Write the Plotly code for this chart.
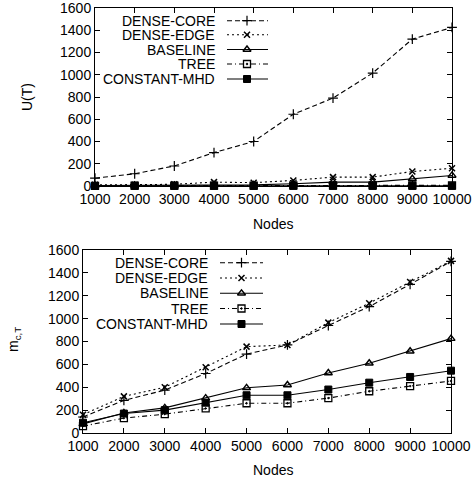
import plotly.graph_objects as go

W, H = 474, 481

nodes = [1000, 2000, 3000, 4000, 5000, 6000, 7000, 8000, 9000, 10000]
series_names = ["DENSE-CORE", "DENSE-EDGE", "BASELINE", "TREE", "CONSTANT-MHD"]

# Top chart: U(T)
u_dense_core = [70, 110, 180, 300, 400, 645, 790, 1015, 1320, 1425]
u_dense_edge = [10, 10, 15, 35, 30, 50, 80, 80, 130, 160]
u_baseline = [5, 5, 5, 10, 10, 20, 35, 35, 65, 95]
u_tree = [2, 3, 3, 4, 4, 5, 5, 5, 6, 6]
u_constant_mhd = [1, 1, 1, 1, 1, 1, 1, 1, 1, 1]

# Bottom chart: m_{c,T}
m_dense_core = [140, 285, 375, 520, 690, 770, 940, 1105, 1300, 1500]
m_dense_edge = [160, 320, 400, 575, 755, 770, 965, 1135, 1320, 1505]
m_baseline = [80, 175, 220, 305, 395, 420, 525, 610, 715, 825]
m_tree = [60, 130, 165, 215, 260, 260, 305, 365, 410, 455]
m_constant_mhd = [90, 170, 200, 265, 330, 330, 380, 440, 490, 545]

x_ticks = nodes
x_tick_labels = [str(v) for v in nodes]
y_ticks = [0, 200, 400, 600, 800, 1000, 1200, 1400, 1600]
y_tick_labels = [str(v) for v in y_ticks]

top_values = [u_dense_core, u_dense_edge, u_baseline, u_tree, u_constant_mhd]
bottom_values = [m_dense_core, m_dense_edge, m_baseline, m_tree, m_constant_mhd]

styles = [
    dict(dash="5px,3px", symbol="cross-thin", size=7, mlw=1.2),
    dict(dash="2px,3px", symbol="x-thin", size=6, mlw=1.5),
    dict(dash="solid", symbol="triangle-up-open", size=7, mlw=1.4),
    dict(dash="5px,3px,1px,3px", symbol="square-open-dot", size=7, mlw=1.3),
    dict(dash="solid", symbol="square", size=7, mlw=1),
]

FONT = "Liberation Sans, Arial, sans-serif"
fig = go.Figure()

def add_series(values_list, xa, ya):
    for name, vals, st in zip(series_names, values_list, styles):
        fig.add_trace(go.Scatter(
            x=nodes, y=vals, mode="lines+markers", name=name,
            xaxis=xa, yaxis=ya, showlegend=False, cliponaxis=False,
            line=dict(color="black", width=1.1, dash=st["dash"]),
            marker=dict(symbol=st["symbol"], size=st["size"], color="black",
                        line=dict(color="black", width=st["mlw"])),
        ))

add_series(top_values, "x", "y")
add_series(bottom_values, "x2", "y2")

# Legend samples (gnuplot style: label left, sample right), on a pixel overlay axis
legend_top = dict(rows=[20.7, 34.8, 49.5, 64.0, 79.0], text_x=217, x0=227, x1=268, xm=247)
legend_bot = dict(rows=[262.7, 278.0, 293.3, 308.5, 324.0], text_x=210, x0=220, x1=263, xm=241.5)

annotations = []
for lg in (legend_top, legend_bot):
    for name, st, yy in zip(series_names, styles, lg["rows"]):
        fig.add_trace(go.Scatter(
            x=[lg["x0"], lg["x1"]], y=[yy, yy], mode="lines", xaxis="x3", yaxis="y3",
            showlegend=False, hoverinfo="skip", cliponaxis=False,
            line=dict(color="black", width=1.1, dash=st["dash"])))
        fig.add_trace(go.Scatter(
            x=[lg["xm"]], y=[yy], mode="markers", xaxis="x3", yaxis="y3",
            showlegend=False, hoverinfo="skip", cliponaxis=False,
            marker=dict(symbol=st["symbol"], size=st["size"], color="black",
                        line=dict(color="black", width=st["mlw"]))))
        annotations.append(dict(
            text=name, x=lg["text_x"] / W, y=1 - yy / H, xref="paper", yref="paper",
            xanchor="right", yanchor="middle", showarrow=False,
            font=dict(family=FONT, size=14, color="black")))

# Axis titles
annotations += [
    dict(text="Nodes", x=273 / W, y=1 - 224 / H, xref="paper", yref="paper",
         xanchor="center", yanchor="middle", showarrow=False,
         font=dict(family=FONT, size=14, color="black")),
    dict(text="Nodes", x=273 / W, y=1 - 470 / H, xref="paper", yref="paper",
         xanchor="center", yanchor="middle", showarrow=False,
         font=dict(family=FONT, size=14, color="black")),
    dict(text="U(T)", x=27 / W, y=1 - 97 / H, xref="paper", yref="paper",
         xanchor="center", yanchor="middle", showarrow=False, textangle=-90,
         font=dict(family=FONT, size=14, color="black")),
    dict(text="m<sub>c,T</sub>", x=14 / W, y=1 - 340 / H, xref="paper", yref="paper",
         xanchor="center", yanchor="middle", showarrow=False, textangle=-90,
         font=dict(family=FONT, size=14, color="black")),
]

def xaxis_cfg(domain, anchor):
    return dict(domain=domain, anchor=anchor, range=[1000, 10000], tickvals=x_ticks,
                ticktext=x_tick_labels, ticklabeloverflow="allow",
                ticks="inside", ticklen=5, tickcolor="black", showline=True,
                linecolor="black", linewidth=1, mirror="allticks", showgrid=False,
                zeroline=False, automargin=False,
                tickfont=dict(family=FONT, size=14, color="black"))

def yaxis_cfg(domain, anchor):
    return dict(domain=domain, anchor=anchor, range=[0, 1600], tickvals=y_ticks,
                ticktext=y_tick_labels, ticklabeloverflow="allow",
                ticks="inside", ticklen=5, tickcolor="black", showline=True,
                linecolor="black", linewidth=1, mirror="allticks", showgrid=False,
                zeroline=False, automargin=False,
                tickfont=dict(family=FONT, size=14, color="black"))

fig.update_layout(
    width=W, height=H, margin=dict(l=0, r=0, t=0, b=0),
    paper_bgcolor="white", plot_bgcolor="rgba(0,0,0,0)",
    font=dict(family=FONT, size=14, color="black"),
    xaxis=xaxis_cfg([95 / W, 452 / W], "y"),
    yaxis=yaxis_cfg([1 - 186 / H, 1 - 8 / H], "x"),
    xaxis2=xaxis_cfg([83 / W, 451 / W], "y2"),
    yaxis2=yaxis_cfg([1 - 433 / H, 1 - 250 / H], "x2"),
    xaxis3=dict(domain=[0, 1], anchor="y3", range=[0, W], visible=False, fixedrange=True),
    yaxis3=dict(domain=[0, 1], anchor="x3", range=[H, 0], visible=False, fixedrange=True),
    annotations=annotations,
    showlegend=False,
)

fig.write_html("out.html", config={"displayModeBar": False},
               post_script="document.body.style.margin='0';document.body.style.overflow='hidden';")
